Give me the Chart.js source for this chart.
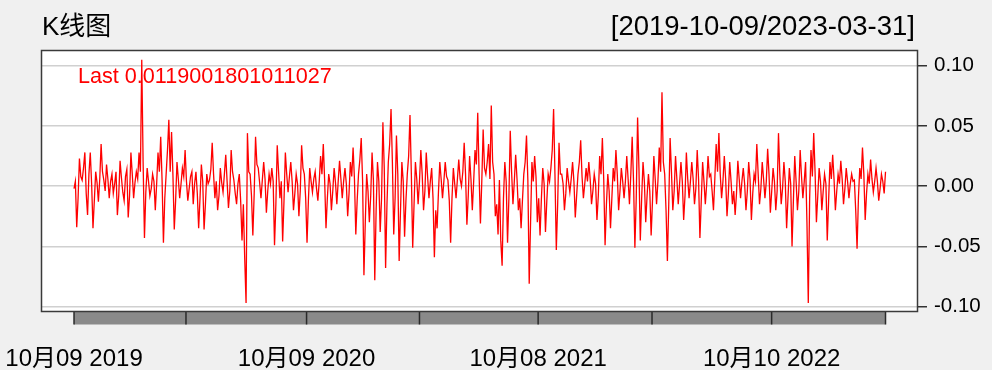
<!DOCTYPE html>
<html>
<head>
<meta charset="utf-8">
<script src="https://cdn.jsdelivr.net/npm/chart.js@4/dist/chart.umd.min.js"></script>
<style>
  html, body { margin: 0; padding: 0; background: #f0f0f0; }
  canvas { display: block; }
</style>
</head>
<body>
<canvas id="kChart" width="992" height="370"></canvas>
<script>
const titleLeft = 'K线图';
const titleRight = '[2019-10-09/2023-03-31]';
const lastLabel = 'Last 0.0119001801011027';

const yTicks = [-0.10, -0.05, 0, 0.05, 0.10];
const dateLabels = ['10月09 2019', '10月09 2020', '10月08 2021', '10月10 2022'];
const dateLabelDays = [0, 243, 485, 729];
const barBreakDays = [0, 117, 243, 361, 485, 604, 729, 848];
const totalDays = 848;

// daily returns (left to right)
const returns = [
  -0.002, 0.004, -0.034, -0.010, 0.023, 0.008, 0.005, 0.015, 0.028, -0.006, -0.024, 0.010, 0.028, 0.002, -0.035, -0.012, 0.012, 0.003, -0.013, 0.006,
  0.035, 0.012, 0.005, -0.004, 0.018, 0.006, -0.010, 0.004, 0.010, -0.006, 0.002, 0.012, -0.024, -0.008, 0.021, 0.007, -0.005, -0.012, 0.008, 0.014,
  -0.026, -0.008, 0.028, 0.010, -0.010, 0.003, 0.012, 0.006, 0.028, 0.012, 0.105, 0.020, -0.043, -0.005, 0.015, 0.004, -0.008, -0.002, 0.010, 0.004,
  -0.020, 0.002, 0.028, 0.012, 0.041, 0.005, -0.047, -0.010, 0.010, 0.030, 0.055, 0.012, 0.045, 0.010, -0.036, -0.012, 0.020, 0.006, -0.010, 0.002,
  0.015, 0.008, 0.030, 0.004, -0.012, -0.002, 0.008, 0.012, -0.015, 0.002, 0.012, -0.006, -0.035, -0.010, 0.018, 0.004, -0.036, -0.015, 0.010, 0.002,
  0.005, 0.014, 0.036, 0.010, -0.010, 0.004, -0.020, -0.008, 0.015, 0.003, -0.005, 0.010, 0.026, 0.004, -0.018, -0.004, 0.030, 0.012, 0.005, -0.006,
  -0.015, 0.002, 0.010, -0.012, -0.045, -0.015, -0.060, -0.097, 0.044, 0.012, 0.010, -0.008, -0.041, -0.006, 0.041, 0.018, 0.015, 0.003, -0.010, 0.005,
  0.020, 0.006, -0.022, -0.004, 0.010, 0.002, 0.015, 0.004, -0.049, -0.015, 0.034, 0.012, -0.010, 0.004, -0.046, -0.012, 0.028, 0.010, -0.005, 0.008,
  0.020, 0.004, -0.020, -0.006, 0.010, 0.002, -0.025, -0.004, 0.034, 0.015, 0.010, -0.010, -0.047, -0.012, 0.015, 0.004, -0.005, 0.006, 0.012, -0.002,
  -0.012, 0.004, 0.025, 0.010, 0.035, 0.005, -0.035, -0.010, 0.010, 0.002, -0.020, -0.004, 0.015, 0.003, -0.015, 0.004, 0.021, 0.006, -0.010, 0.004,
  0.015, 0.002, -0.025, -0.006, 0.020, 0.008, 0.032, 0.006, -0.040, -0.012, 0.010, 0.022, 0.040, 0.005, -0.074, -0.030, 0.010, -0.004, -0.030, -0.008,
  0.028, 0.005, -0.078, -0.020, 0.020, 0.004, -0.038, -0.010, 0.053, 0.015, -0.068, -0.015, 0.020, 0.035, 0.064, 0.020, -0.040, -0.010, 0.042, 0.010,
  -0.062, -0.020, 0.020, 0.004, -0.042, -0.012, 0.010, 0.025, 0.059, 0.010, -0.051, -0.015, 0.020, 0.006, -0.015, 0.004, 0.030, 0.010, -0.020, -0.004,
  0.028, 0.008, -0.010, 0.004, 0.015, -0.010, -0.059, -0.020, -0.035, -0.005, 0.020, 0.006, -0.010, 0.004, 0.020, 0.008, 0.005, -0.012, -0.047, -0.010,
  0.015, 0.002, -0.010, 0.006, 0.022, 0.006, 0.000, 0.012, 0.036, 0.010, -0.032, -0.008, 0.025, 0.006, -0.020, 0.004, 0.030, 0.018, 0.061, 0.010,
  -0.031, 0.004, 0.047, 0.015, 0.010, 0.020, 0.035, 0.006, 0.067, 0.020, 0.010, -0.025, -0.015, -0.040, 0.005, -0.045, -0.066, -0.010, 0.020, 0.004,
  -0.047, -0.010, 0.046, 0.012, -0.015, 0.004, 0.026, 0.006, -0.020, -0.010, -0.035, -0.012, 0.010, 0.020, 0.042, 0.005, -0.081, -0.030, 0.020, 0.004,
  0.025, 0.008, -0.030, -0.010, -0.041, -0.010, 0.015, 0.002, -0.038, -0.012, 0.010, 0.004, 0.015, 0.030, 0.064, 0.010, -0.053, -0.015, 0.036, 0.010,
  0.010, 0.002, -0.020, -0.006, 0.015, 0.004, -0.005, 0.006, 0.020, 0.004, -0.026, -0.008, 0.010, 0.020, 0.038, 0.008, -0.010, 0.002, 0.015, 0.004,
  0.020, 0.006, -0.015, -0.004, 0.010, 0.002, -0.028, -0.008, 0.025, 0.010, 0.040, 0.006, -0.049, -0.015, 0.010, -0.004, -0.035, -0.010, 0.015, 0.004,
  0.030, 0.010, -0.020, -0.004, 0.015, 0.004, -0.010, 0.004, 0.025, 0.006, -0.015, 0.010, 0.041, 0.004, -0.051, -0.010, 0.057, 0.015, -0.045, -0.010,
  0.020, 0.004, -0.030, -0.008, 0.010, -0.004, -0.041, -0.012, 0.025, 0.006, -0.015, 0.004, 0.032, 0.012, 0.078, 0.020, 0.010, -0.020, -0.062, -0.015,
  0.040, 0.012, -0.020, -0.004, 0.025, 0.006, -0.015, 0.002, 0.020, 0.004, -0.028, -0.008, 0.028, 0.006, -0.010, 0.004, 0.020, 0.006, -0.015, -0.002,
  0.030, 0.006, -0.043, -0.012, 0.020, 0.004, -0.015, 0.002, 0.025, 0.008, 0.010, -0.004, -0.020, 0.006, 0.035, 0.012, 0.044, 0.010, -0.010, 0.004,
  0.025, 0.006, -0.025, -0.006, 0.020, 0.004, -0.015, -0.004, -0.024, -0.006, 0.021, 0.006, -0.010, 0.004, 0.015, 0.002, -0.020, -0.004, 0.020, 0.006,
  -0.028, -0.006, 0.010, 0.004, 0.035, 0.010, -0.015, -0.002, 0.020, 0.006, -0.010, 0.004, 0.031, 0.010, -0.022, -0.004, 0.015, 0.004, -0.020, -0.004,
  0.044, 0.010, -0.015, -0.002, 0.020, 0.004, -0.035, -0.010, 0.015, 0.002, -0.050, -0.012, 0.025, 0.004, -0.020, -0.004, 0.030, 0.008, -0.010, 0.004,
  0.020, -0.030, -0.097, -0.010, 0.030, 0.008, 0.044, 0.012, -0.030, -0.008, 0.015, 0.004, -0.020, -0.004, 0.010, 0.002, -0.045, -0.012, 0.020, 0.006,
  0.026, 0.006, -0.020, -0.004, 0.010, 0.002, 0.021, 0.006, -0.015, -0.002, 0.015, 0.004, -0.010, 0.002, 0.010, 0.004, 0.005, -0.020, -0.052, -0.010,
  0.015, 0.006, 0.032, 0.010, -0.028, -0.006, 0.010, 0.002, 0.022, 0.006, -0.005, 0.004, 0.015, 0.004, -0.012, -0.002, 0.010, 0.004, -0.006, 0.0119
];

const points = returns.map((v, i) => ({ x: i * totalDays / (returns.length - 1), y: v }));

const FONT = "'Liberation Sans', Arial, 'Noto Sans CJK SC', sans-serif";
Chart.defaults.font.family = FONT;

const framePlugin = {
  id: 'frame',
  beforeDraw(chart) {
    const { ctx, chartArea: a } = chart;
    ctx.save();
    ctx.fillStyle = '#f0f0f0';
    ctx.fillRect(0, 0, chart.width, chart.height);
    ctx.fillStyle = '#ffffff';
    ctx.fillRect(a.left, a.top, a.right - a.left, a.bottom - a.top);
    ctx.restore();
  },
  afterDraw(chart) {
    const { ctx, chartArea: a } = chart;
    const xs = chart.scales.x;
    ctx.save();

    // time bar under the plot
    const x0 = xs.getPixelForValue(0);
    const x1 = xs.getPixelForValue(totalDays);
    ctx.fillStyle = '#8a8a8a';
    ctx.fillRect(x0, a.bottom, x1 - x0, 13.5);
    ctx.strokeStyle = '#2a2a2a';
    ctx.lineWidth = 1.5;
    barBreakDays.forEach(d => {
      const px = xs.getPixelForValue(d);
      ctx.beginPath();
      ctx.moveTo(px, a.bottom);
      ctx.lineTo(px, a.bottom + 13.5);
      ctx.stroke();
    });

    // plot frame
    ctx.strokeStyle = '#3a3a3a';
    ctx.lineWidth = 1.5;
    ctx.strokeRect(a.left + 0.5, a.top + 0.5, a.right - a.left, a.bottom - a.top);

    // titles
    ctx.fillStyle = '#000';
    ctx.textBaseline = 'alphabetic';
    ctx.font = '26px ' + FONT;
    ctx.textAlign = 'left';
    ctx.fillText(titleLeft, 42, 35);
    ctx.font = '27.5px ' + FONT;
    ctx.textAlign = 'right';
    ctx.fillText(titleRight, 915, 35);

    ctx.fillStyle = '#ff0000';
    ctx.font = '21.6px ' + FONT;
    ctx.textAlign = 'left';
    ctx.fillText(lastLabel, 78, 83);
    ctx.restore();
  }
};

new Chart(document.getElementById('kChart'), {
  type: 'line',
  data: {
    datasets: [{
      data: points,
      borderColor: '#ff0000',
      borderWidth: 1.3,
      pointRadius: 0,
      tension: 0,
      fill: false
    }]
  },
  options: {
    responsive: false,
    animation: false,
    devicePixelRatio: 1,
    layout: { padding: { left: 41, top: 50, right: 0, bottom: 0 } },
    plugins: { legend: { display: false }, tooltip: { enabled: false } },
    scales: {
      x: {
        type: 'linear',
        min: -34.5,
        max: 880.9,
        grid: { display: false, drawTicks: false },
        border: { display: false },
        afterBuildTicks: s => { s.ticks = dateLabelDays.map(v => ({ value: v })); },
        afterFit: s => { s.height = 59; s.paddingLeft = 0; s.paddingRight = 0; },
        ticks: {
          autoSkip: false,
          maxRotation: 0,
          padding: 34,
          color: '#000',
          font: { size: 24 },
          callback: (v) => dateLabels[dateLabelDays.indexOf(v)]
        }
      },
      y: {
        position: 'right',
        min: -0.1036,
        max: 0.1130,
        grid: { color: '#d0d0d0', lineWidth: 1.5, tickColor: '#333', tickLength: 10 },
        border: { display: false },
        afterBuildTicks: s => { s.ticks = yTicks.map(v => ({ value: v })); },
        afterFit: s => { s.width = 75; s.paddingTop = 0; s.paddingBottom = 0; },
        ticks: {
          padding: 7,
          color: '#000',
          font: { size: 20.5 },
          callback: v => v.toFixed(2)
        }
      }
    }
  },
  plugins: [framePlugin]
});
</script>
</body>
</html>
